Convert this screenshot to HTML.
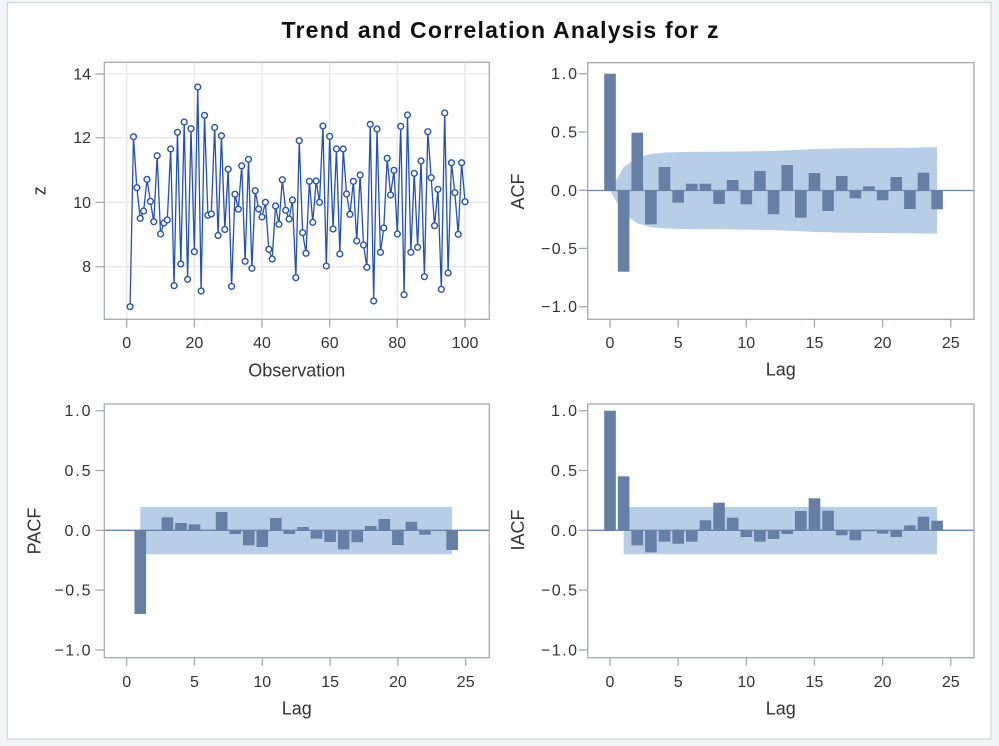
<!DOCTYPE html>
<html><head><meta charset="utf-8"><style>
html,body{margin:0;padding:0;background:#f3f4f7;}
svg{display:block;}
text{font-family:"Liberation Sans",Arial,sans-serif;}
.tk{font-size:16px;fill:#333;}
.at{font-size:18px;fill:#333;}
</style></head><body>
<svg width="999" height="746" viewBox="0 0 999 746" xmlns="http://www.w3.org/2000/svg">
<defs>
<marker id="m" markerUnits="userSpaceOnUse" markerWidth="10" markerHeight="10" refX="5" refY="5" overflow="visible">
<circle cx="5" cy="5" r="2.9" fill="#fff" stroke="#2550b5" stroke-width="1.4"/>
</marker>
</defs>
<rect x="0" y="0" width="999" height="746" fill="#f3f4f7"/>
<rect x="7.5" y="2.5" width="983.5" height="736.5" fill="#fff" stroke="#d3d5d9" stroke-width="1.2"/>
<text x="500" y="38" text-anchor="middle" font-size="23" font-weight="bold" fill="#111" textLength="437" lengthAdjust="spacing">Trend and Correlation Analysis for z</text>

<!-- Top-left: series -->
<g stroke="#e6e7e9" stroke-width="1.3">
<line x1="126.7" y1="62.3" x2="126.7" y2="319.3"/><line x1="194.4" y1="62.3" x2="194.4" y2="319.3"/><line x1="262.0" y1="62.3" x2="262.0" y2="319.3"/><line x1="329.7" y1="62.3" x2="329.7" y2="319.3"/><line x1="397.3" y1="62.3" x2="397.3" y2="319.3"/><line x1="465.0" y1="62.3" x2="465.0" y2="319.3"/>
<line x1="104.3" y1="74" x2="489.3" y2="74"/><line x1="104.3" y1="137.7" x2="489.3" y2="137.7"/><line x1="104.3" y1="202.3" x2="489.3" y2="202.3"/><line x1="104.3" y1="266.7" x2="489.3" y2="266.7"/>
</g>
<polyline fill="none" stroke="#2550b5" stroke-width="1.3" stroke-linejoin="round" marker-start="url(#m)" marker-mid="url(#m)" marker-end="url(#m)" points="130.08,306.7 133.47,136.7 136.85,187.7 140.23,218.3 143.62,211.0 147.0,179.3 150.38,201.3 153.76,221.7 157.15,155.7 160.53,234.0 163.91,223.0 167.30,220.0 170.68,149.0 174.06,285.7 177.45,132.3 180.83,264.0 184.21,122.0 187.59,279.3 190.98,128.7 194.36,251.7 197.74,87.0 201.13,291.0 204.51,115.3 207.89,215.3 211.28,214.0 214.66,127.5 218.04,235.5 221.42,135.7 224.81,229.5 228.19,169.2 231.57,286.3 234.96,194.2 238.34,209.2 241.72,165.8 245.11,261.3 248.49,159.3 251.87,268.3 255.25,190.7 258.64,209.0 262.02,217.0 265.40,202.3 268.79,249.3 272.17,259.0 275.55,206.0 278.94,224.3 282.32,179.7 285.70,210.3 289.08,219.0 292.47,200.0 295.85,277.7 299.23,140.7 302.62,232.7 306.0,253.3 309.38,181.3 312.77,222.3 316.15,181.0 319.53,202.3 322.91,126.0 326.30,266.0 329.68,136.3 333.06,229.0 336.45,149.0 339.83,254.0 343.21,149.0 346.60,194.0 349.98,214.3 353.36,181.3 356.74,241.0 360.13,175.0 363.51,245.0 366.89,267.3 370.28,124.3 373.66,301.0 377.04,129.0 380.43,252.3 383.81,228.0 387.19,158.3 390.57,195.0 393.96,170.3 397.34,234.0 400.72,126.3 404.11,294.7 407.49,115.0 410.87,252.3 414.26,173.3 417.64,247.3 421.02,161.0 424.40,276.7 427.79,131.7 431.17,177.7 434.55,225.7 437.94,189.3 441.32,289.3 444.70,113.0 448.09,273.0 451.47,162.7 454.85,192.7 458.23,234.3 461.62,162.7 465.0,201.7"/>
<rect x="104.3" y="62.3" width="385" height="257" fill="none" stroke="#a5aab0" stroke-width="1.3"/>
<g stroke="#a5aab0" stroke-width="1.3">
<line x1="95.3" y1="74" x2="104.3" y2="74"/><line x1="95.3" y1="137.7" x2="104.3" y2="137.7"/><line x1="95.3" y1="202.3" x2="104.3" y2="202.3"/><line x1="95.3" y1="266.7" x2="104.3" y2="266.7"/>
<line x1="126.7" y1="319.3" x2="126.7" y2="327.5"/><line x1="194.4" y1="319.3" x2="194.4" y2="327.5"/><line x1="262.0" y1="319.3" x2="262.0" y2="327.5"/><line x1="329.7" y1="319.3" x2="329.7" y2="327.5"/><line x1="397.3" y1="319.3" x2="397.3" y2="327.5"/><line x1="465.0" y1="319.3" x2="465.0" y2="327.5"/>
</g>
<g class="tk" text-anchor="end">
<text x="91" y="79.5">14</text><text x="91" y="143.2">12</text><text x="91" y="207.8">10</text><text x="91" y="272.2">8</text>
</g>
<g class="tk" text-anchor="middle">
<text x="126.7" y="348">0</text><text x="194.4" y="348">20</text><text x="262.0" y="348">40</text><text x="329.7" y="348">60</text><text x="397.3" y="348">80</text><text x="465.0" y="348">100</text>
</g>
<text class="at" x="296.8" y="376.5" text-anchor="middle">Observation</text>
<text class="at" transform="translate(45.5,190.7) rotate(-90)" text-anchor="middle">z</text>

<!-- Top-right: ACF -->
<polygon fill="#b8cde6" points="610,190.5 623.63,167.2 637.26,157.8 650.89,153.9 664.52,152.6 678.15,152.1 691.78,151.9 719.04,151.7 746.3,151.4 773.56,151.0 787.19,150.3 800.82,149.7 814.45,149.0 828.08,148.7 841.71,148.3 855.34,148.1 882.6,148.0 909.86,147.7 923.49,147.4 937.12,147.2 937.12,233.8 923.49,233.6 909.86,233.3 882.6,233.0 855.34,232.9 841.71,232.7 828.08,232.3 814.45,232.0 800.82,231.3 787.19,230.7 773.56,230.0 746.3,229.6 719.04,229.3 691.78,229.1 678.15,228.9 664.52,228.4 650.89,227.1 637.26,223.2 623.63,213.8"/>
<line x1="587.7" y1="190.5" x2="974" y2="190.5" stroke="#6a86b0" stroke-width="1.3"/>
<g fill="#667fa5">
<rect x="604.2" y="73.7" width="11.6" height="116.8"/>
<rect x="617.83" y="190.5" width="11.6" height="81.2"/>
<rect x="631.46" y="132.7" width="11.6" height="57.8"/>
<rect x="645.09" y="190.5" width="11.6" height="33.8"/>
<rect x="658.72" y="167" width="11.6" height="23.5"/>
<rect x="672.35" y="190.5" width="11.6" height="12.2"/>
<rect x="685.98" y="183.7" width="11.6" height="6.8"/>
<rect x="699.61" y="183.7" width="11.6" height="6.8"/>
<rect x="713.24" y="190.5" width="11.6" height="13.5"/>
<rect x="726.87" y="180" width="11.6" height="10.5"/>
<rect x="740.5" y="190.5" width="11.6" height="13.8"/>
<rect x="754.13" y="171" width="11.6" height="19.5"/>
<rect x="767.76" y="190.5" width="11.6" height="23.8"/>
<rect x="781.39" y="165" width="11.6" height="25.5"/>
<rect x="795.02" y="190.5" width="11.6" height="27.2"/>
<rect x="808.65" y="173" width="11.6" height="17.5"/>
<rect x="822.28" y="190.5" width="11.6" height="20.5"/>
<rect x="835.91" y="176" width="11.6" height="14.5"/>
<rect x="849.54" y="190.5" width="11.6" height="7.8"/>
<rect x="863.17" y="186.3" width="11.6" height="4.2"/>
<rect x="876.8" y="190.5" width="11.6" height="9.8"/>
<rect x="890.43" y="177" width="11.6" height="13.5"/>
<rect x="904.06" y="190.5" width="11.6" height="18.5"/>
<rect x="917.69" y="172.7" width="11.6" height="17.8"/>
<rect x="931.32" y="190.5" width="11.6" height="18.8"/>
</g>
<rect x="587.7" y="62.7" width="386.3" height="256.6" fill="none" stroke="#a5aab0" stroke-width="1.3"/>
<g stroke="#a5aab0" stroke-width="1.3">
<line x1="578.7" y1="73.7" x2="587.7" y2="73.7"/><line x1="578.7" y1="132" x2="587.7" y2="132"/><line x1="578.7" y1="190.3" x2="587.7" y2="190.3"/><line x1="578.7" y1="248.4" x2="587.7" y2="248.4"/><line x1="578.7" y1="306.7" x2="587.7" y2="306.7"/>
<line x1="610" y1="319.3" x2="610" y2="327.5"/><line x1="678.15" y1="319.3" x2="678.15" y2="327.5"/><line x1="746.3" y1="319.3" x2="746.3" y2="327.5"/><line x1="814.45" y1="319.3" x2="814.45" y2="327.5"/><line x1="882.6" y1="319.3" x2="882.6" y2="327.5"/><line x1="950.75" y1="319.3" x2="950.75" y2="327.5"/>
</g>
<g class="tk" text-anchor="end">
<text x="577" y="79.2" textLength="26" lengthAdjust="spacing">1.0</text>
<text x="577" y="137.5" textLength="26" lengthAdjust="spacing">0.5</text>
<text x="577" y="195.8" textLength="26" lengthAdjust="spacing">0.0</text>
<text x="577" y="253.9" textLength="36" lengthAdjust="spacing">−0.5</text>
<text x="577" y="312.2" textLength="36" lengthAdjust="spacing">−1.0</text>
</g>
<g class="tk" text-anchor="middle">
<text x="610" y="348">0</text><text x="678.15" y="348">5</text><text x="746.3" y="348">10</text><text x="814.45" y="348">15</text><text x="882.6" y="348">20</text><text x="950.75" y="348">25</text>
</g>
<text class="at" x="780.8" y="375.5" text-anchor="middle">Lag</text>
<text class="at" transform="translate(524,191.5) rotate(-90)" text-anchor="middle">ACF</text>

<!-- Bottom-left: PACF -->
<rect x="140.3" y="507" width="311.7" height="47.3" fill="#b8cde6"/>
<line x1="104.3" y1="530.3" x2="489.3" y2="530.3" stroke="#6a86b0" stroke-width="1.3"/>
<g fill="#667fa5">
<rect x="134.46" y="530.3" width="11.6" height="83.7"/>
<rect x="161.58" y="517.3" width="11.6" height="13"/>
<rect x="175.14" y="523" width="11.6" height="7.3"/>
<rect x="188.7" y="524.3" width="11.6" height="6"/>
<rect x="215.82" y="512" width="11.6" height="18.3"/>
<rect x="229.38" y="530.3" width="11.6" height="3.7"/>
<rect x="242.94" y="530.3" width="11.6" height="15"/>
<rect x="256.5" y="530.3" width="11.6" height="16.7"/>
<rect x="270.06" y="518" width="11.6" height="12.3"/>
<rect x="283.62" y="530.3" width="11.6" height="3.7"/>
<rect x="297.18" y="527" width="11.6" height="3.3"/>
<rect x="310.74" y="530.3" width="11.6" height="8.4"/>
<rect x="324.3" y="530.3" width="11.6" height="11.7"/>
<rect x="337.86" y="530.3" width="11.6" height="19"/>
<rect x="351.42" y="530.3" width="11.6" height="12"/>
<rect x="364.98" y="526" width="11.6" height="4.3"/>
<rect x="378.54" y="519" width="11.6" height="11.3"/>
<rect x="392.1" y="530.3" width="11.6" height="14.7"/>
<rect x="405.66" y="521.7" width="11.6" height="8.6"/>
<rect x="419.22" y="530.3" width="11.6" height="4.4"/>
<rect x="446.34" y="530.3" width="11.6" height="19.7"/>
</g>
<rect x="104.3" y="404" width="385" height="253.7" fill="none" stroke="#a5aab0" stroke-width="1.3"/>
<g stroke="#a5aab0" stroke-width="1.3">
<line x1="95.3" y1="410.7" x2="104.3" y2="410.7"/><line x1="95.3" y1="470.5" x2="104.3" y2="470.5"/><line x1="95.3" y1="530.3" x2="104.3" y2="530.3"/><line x1="95.3" y1="590.1" x2="104.3" y2="590.1"/><line x1="95.3" y1="650" x2="104.3" y2="650"/>
<line x1="126.7" y1="657.7" x2="126.7" y2="665.7"/><line x1="194.5" y1="657.7" x2="194.5" y2="665.7"/><line x1="262.3" y1="657.7" x2="262.3" y2="665.7"/><line x1="330.1" y1="657.7" x2="330.1" y2="665.7"/><line x1="397.9" y1="657.7" x2="397.9" y2="665.7"/><line x1="465.7" y1="657.7" x2="465.7" y2="665.7"/>
</g>
<g class="tk" text-anchor="end">
<text x="90.5" y="416.2" textLength="26" lengthAdjust="spacing">1.0</text>
<text x="90.5" y="476" textLength="26" lengthAdjust="spacing">0.5</text>
<text x="90.5" y="535.8" textLength="26" lengthAdjust="spacing">0.0</text>
<text x="90.5" y="595.6" textLength="36" lengthAdjust="spacing">−0.5</text>
<text x="90.5" y="655.5" textLength="36" lengthAdjust="spacing">−1.0</text>
</g>
<g class="tk" text-anchor="middle">
<text x="126.7" y="687">0</text><text x="194.5" y="687">5</text><text x="262.3" y="687">10</text><text x="330.1" y="687">15</text><text x="397.9" y="687">20</text><text x="465.7" y="687">25</text>
</g>
<text class="at" x="296.8" y="714.5" text-anchor="middle">Lag</text>
<text class="at" transform="translate(40.5,531) rotate(-90)" text-anchor="middle">PACF</text>

<!-- Bottom-right: IACF -->
<rect x="623.7" y="507" width="313.3" height="47.3" fill="#b8cde6"/>
<line x1="587.7" y1="530.3" x2="974" y2="530.3" stroke="#6a86b0" stroke-width="1.3"/>
<g fill="#667fa5">
<rect x="604.2" y="410.7" width="11.6" height="119.6"/>
<rect x="617.83" y="476.3" width="11.6" height="54"/>
<rect x="631.46" y="530.3" width="11.6" height="15"/>
<rect x="645.09" y="530.3" width="11.6" height="22"/>
<rect x="658.72" y="530.3" width="11.6" height="11.4"/>
<rect x="672.35" y="530.3" width="11.6" height="13.4"/>
<rect x="685.98" y="530.3" width="11.6" height="11.4"/>
<rect x="699.61" y="520.3" width="11.6" height="10"/>
<rect x="713.24" y="502.7" width="11.6" height="27.6"/>
<rect x="726.87" y="517.7" width="11.6" height="12.6"/>
<rect x="740.5" y="530.3" width="11.6" height="6.7"/>
<rect x="754.13" y="530.3" width="11.6" height="11.4"/>
<rect x="767.76" y="530.3" width="11.6" height="8.7"/>
<rect x="781.39" y="530.3" width="11.6" height="3.7"/>
<rect x="795.02" y="511" width="11.6" height="19.3"/>
<rect x="808.65" y="498.3" width="11.6" height="32"/>
<rect x="822.28" y="510.7" width="11.6" height="19.6"/>
<rect x="835.91" y="530.3" width="11.6" height="5"/>
<rect x="849.54" y="530.3" width="11.6" height="10"/>
<rect x="863.17" y="530.3" width="11.6" height="1"/>
<rect x="876.8" y="530.3" width="11.6" height="3.4"/>
<rect x="890.43" y="530.3" width="11.6" height="6.7"/>
<rect x="904.06" y="525.3" width="11.6" height="5"/>
<rect x="917.69" y="516.7" width="11.6" height="13.6"/>
<rect x="931.32" y="520.7" width="11.6" height="9.6"/>
</g>
<rect x="587.7" y="404" width="386.3" height="253.7" fill="none" stroke="#a5aab0" stroke-width="1.3"/>
<g stroke="#a5aab0" stroke-width="1.3">
<line x1="578.7" y1="410.7" x2="587.7" y2="410.7"/><line x1="578.7" y1="470.5" x2="587.7" y2="470.5"/><line x1="578.7" y1="530.3" x2="587.7" y2="530.3"/><line x1="578.7" y1="590.1" x2="587.7" y2="590.1"/><line x1="578.7" y1="650" x2="587.7" y2="650"/>
<line x1="610" y1="657.7" x2="610" y2="665.7"/><line x1="678.15" y1="657.7" x2="678.15" y2="665.7"/><line x1="746.3" y1="657.7" x2="746.3" y2="665.7"/><line x1="814.45" y1="657.7" x2="814.45" y2="665.7"/><line x1="882.6" y1="657.7" x2="882.6" y2="665.7"/><line x1="950.75" y1="657.7" x2="950.75" y2="665.7"/>
</g>
<g class="tk" text-anchor="end">
<text x="577" y="416.2" textLength="26" lengthAdjust="spacing">1.0</text>
<text x="577" y="476" textLength="26" lengthAdjust="spacing">0.5</text>
<text x="577" y="535.8" textLength="26" lengthAdjust="spacing">0.0</text>
<text x="577" y="595.6" textLength="36" lengthAdjust="spacing">−0.5</text>
<text x="577" y="655.5" textLength="36" lengthAdjust="spacing">−1.0</text>
</g>
<g class="tk" text-anchor="middle">
<text x="610" y="687">0</text><text x="678.15" y="687">5</text><text x="746.3" y="687">10</text><text x="814.45" y="687">15</text><text x="882.6" y="687">20</text><text x="950.75" y="687">25</text>
</g>
<text class="at" x="780.8" y="714.5" text-anchor="middle">Lag</text>
<text class="at" transform="translate(524,530) rotate(-90)" text-anchor="middle">IACF</text>
</svg>
</body></html>
